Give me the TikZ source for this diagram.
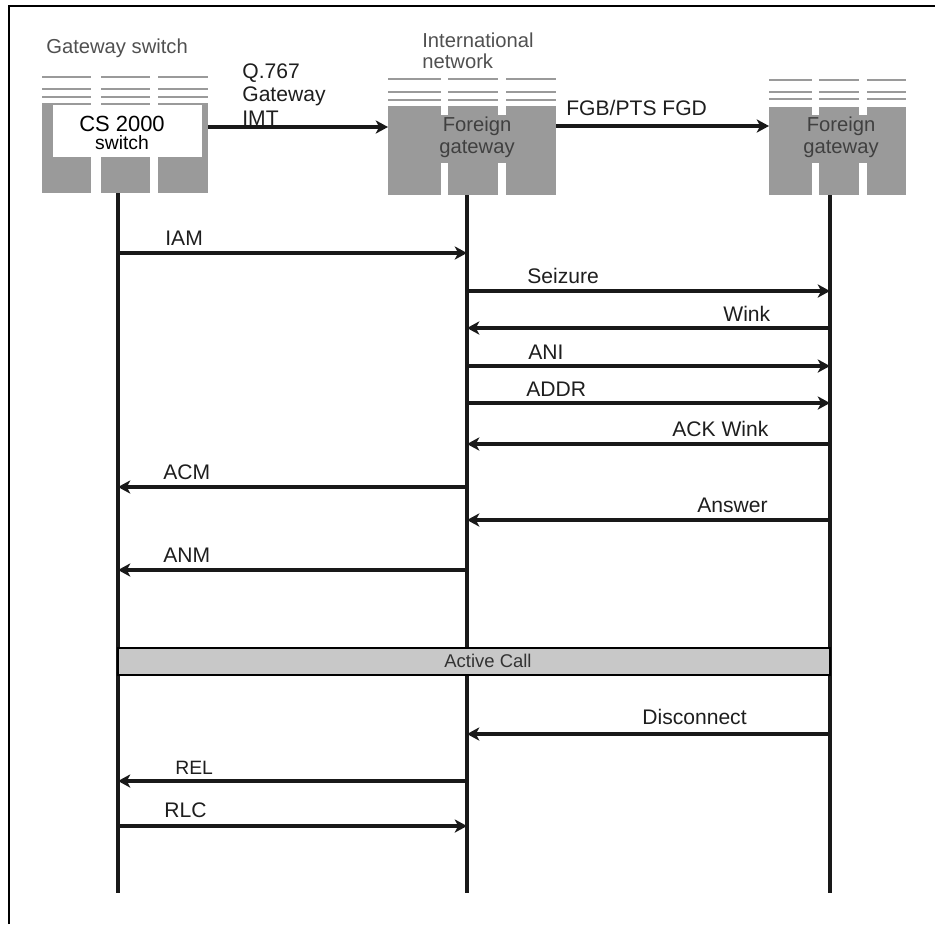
\documentclass[tikz,border=0pt]{standalone}
\usepackage{fontspec}
\setmainfont{Liberation Sans}
\usetikzlibrary{arrows.meta}
\definecolor{rackgray}{HTML}{9A9A9A}
\definecolor{bargray}{HTML}{C8C8C8}
\definecolor{headgray}{HTML}{505050}
\definecolor{labelgray}{HTML}{1E1E1E}
\tikzset{
  frame/.style={line width=1.7pt, draw=black},
  lifeline/.style={line width=1.9pt, draw=black!90},
  msg/.style={line width=1.9pt, draw=black!90, -{Stealth[length=7pt,width=7.5pt,inset=2pt]}},
  rack/.style={fill=rackgray},
  rackline/.style={line width=1.1pt, draw=rackgray},
  msglabel/.style={font=\fontsize{12}{14}\selectfont, text=labelgray, anchor=base west, inner sep=0pt},
  headlabel/.style={font=\fontsize{11.5}{11.5}\selectfont, text=headgray, anchor=base west, inner sep=0pt, align=left},
  racklabel/.style={font=\fontsize{11.5}{12.5}\selectfont, text=black!75, align=center, inner sep=0pt},
  callbar/.style={fill=bargray, draw=black, line width=1.3pt},
  barlabel/.style={font=\fontsize{10.5}{12}\selectfont, text=black!80, inner sep=0pt},
}
\begin{document}
\begin{tikzpicture}[x=0.02cm, y=-0.02cm]
\useasboundingbox (0,0) rectangle (935,924);
\draw[frame] (9,924) -- (9,6) -- (935,6);
% gateway switch rack
\fill[rack] (42,103) rectangle (91,193);
\fill[rack] (101,103) rectangle (150,193);
\fill[rack] (158,103) rectangle (208,193);
\draw[rackline] (42,77) -- (91,77) (101,77) -- (150,77) (158,77) -- (208,77);
\draw[rackline] (42,89) -- (91,89) (101,89) -- (150,89) (158,89) -- (208,89);
\draw[rackline] (42,97) -- (91,97) (101,97) -- (150,97) (158,97) -- (208,97);
\fill[white] (53,105) rectangle (202,157);
\node[racklabel, text=black] (cs) at (122,133) {\fontsize{12.5}{10}\selectfont CS 2000\\[-2.5pt]\fontsize{11}{10}\selectfont switch};
\node[headlabel] (gwhead) at (46,53) {Gateway switch};
% international network rack
\fill[rack] (388,106) rectangle (441,195);
\fill[rack] (448,106) rectangle (498,195);
\fill[rack] (506,106) rectangle (556,195);
\fill[rack] (388,115) rectangle (556,163);
\draw[rackline] (388,79) -- (441,79) (448,79) -- (498,79) (506,79) -- (556,79);
\draw[rackline] (388,92) -- (441,92) (448,92) -- (498,92) (506,92) -- (556,92);
\draw[rackline] (388,100) -- (441,100) (448,100) -- (498,100) (506,100) -- (556,100);
\node[racklabel] (fgone) at (477,137) {Foreign\\gateway};
\node[headlabel] (inthead) at (422,68) {International\\network};
% foreign gateway rack
\fill[rack] (769,107) rectangle (812,195);
\fill[rack] (819,107) rectangle (859,195);
\fill[rack] (867,107) rectangle (906,195);
\fill[rack] (769,115) rectangle (906,163);
\draw[rackline] (769,80) -- (812,80) (819,80) -- (859,80) (867,80) -- (906,80);
\draw[rackline] (769,92) -- (812,92) (819,92) -- (859,92) (867,92) -- (906,92);
\draw[rackline] (769,99) -- (812,99) (819,99) -- (859,99) (867,99) -- (906,99);
\node[racklabel] (fgtwo) at (841,137) {Foreign\\gateway};
% trunks between racks
\coordinate (gwport) at (208,127);
\coordinate (oneinport) at (388,127);
\coordinate (oneoutport) at (556,126);
\coordinate (twoinport) at (769,126);
\draw[msg] (gwport) -- (oneinport);
\draw[msg] (oneoutport) -- (twoinport);
\node[msglabel, align=left, font=\fontsize{12}{13.3}\selectfont] (imt) at (242,125) {Q.767\\Gateway\\IMT};
\node[msglabel] (fgd) at (566,115) {FGB/PTS FGD};
% lifelines
\coordinate (gwtop) at (118,193);
\coordinate (gwbot) at (118,893);
\coordinate (onetop) at (467,195);
\coordinate (onebot) at (467,893);
\coordinate (twotop) at (830,195);
\coordinate (twobot) at (830,893);
\draw[lifeline] (gwtop) -- (gwbot);
\draw[lifeline] (onetop) -- (onebot);
\draw[lifeline] (twotop) -- (twobot);
% messages
\draw[msg] (gwtop |- 0,253) -- (onetop |- 0,253);
\node[msglabel] (iam) at (165,245) {IAM};
\draw[msg] (onetop |- 0,291) -- (twotop |- 0,291);
\node[msglabel] (seizure) at (527,283) {Seizure};
\draw[msg] (twotop |- 0,328) -- (onetop |- 0,328);
\node[msglabel] (wink) at (723,321) {Wink};
\draw[msg] (onetop |- 0,366) -- (twotop |- 0,366);
\node[msglabel] (ani) at (528,359) {ANI};
\draw[msg] (onetop |- 0,403) -- (twotop |- 0,403);
\node[msglabel] (addr) at (526,396) {ADDR};
\draw[msg] (twotop |- 0,444) -- (onetop |- 0,444);
\node[msglabel] (ackwink) at (672,436) {ACK Wink};
\draw[msg] (onetop |- 0,487) -- (gwtop |- 0,487);
\node[msglabel] (acm) at (163,479) {ACM};
\draw[msg] (twotop |- 0,520) -- (onetop |- 0,520);
\node[msglabel] (answer) at (697,512) {Answer};
\draw[msg] (onetop |- 0,570) -- (gwtop |- 0,570);
\node[msglabel] (anm) at (163,562) {ANM};
\draw[callbar] (gwtop |- 0,648) rectangle (twotop |- 0,675);
\node[barlabel] (active) at (488,661) {Active Call};
\draw[msg] (twotop |- 0,734) -- (onetop |- 0,734);
\node[msglabel] (disconnect) at (642,724) {Disconnect};
\draw[msg] (onetop |- 0,781) -- (gwtop |- 0,781);
\node[msglabel, font=\fontsize{11}{13}\selectfont] (rel) at (175,774) {REL};
\draw[msg] (gwtop |- 0,826) -- (onetop |- 0,826);
\node[msglabel] (rlc) at (164,817) {RLC};
\end{tikzpicture}
\end{document}
